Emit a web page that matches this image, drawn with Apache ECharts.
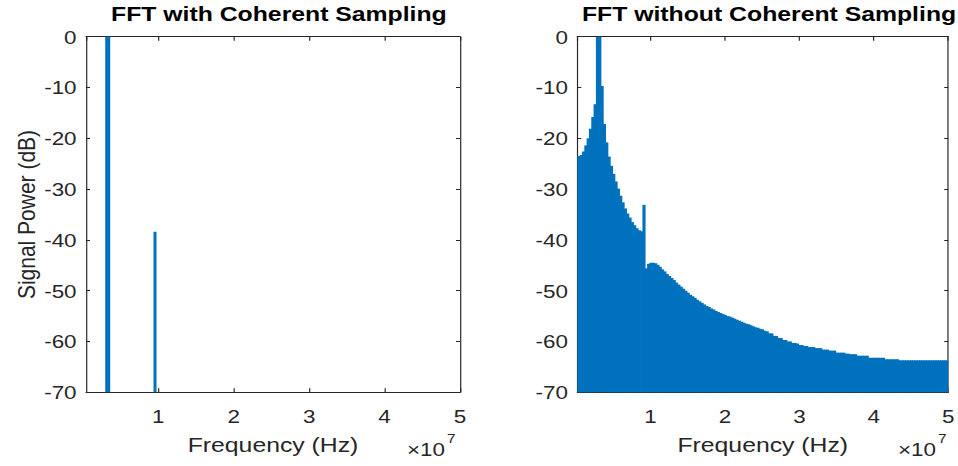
<!DOCTYPE html>
<html>
<head>
<meta charset="utf-8">
<script src="https://cdn.jsdelivr.net/npm/echarts@6/dist/echarts.min.js"></script>
<style>
  html, body { margin: 0; padding: 0; background: #fff; overflow: hidden; }
  #wrap { width: 958px; height: 466px; overflow: hidden; }
  #chart { width: 812px; height: 466px; transform-origin: 0 0; }
</style>
</head>
<body>
<div id="wrap"><div id="chart"></div></div>
<script>
// Horizontal stretch of the whole figure (figure drawn 812 wide, shown 958 wide)
const SX = 958 / 812;
document.getElementById('chart').style.transform = 'scaleX(' + SX + ')';

// ---- Data -------------------------------------------------------------
const titles = ['FFT with Coherent Sampling', 'FFT without Coherent Sampling'];
const xAxisName = 'Frequency (Hz)';
const yAxisName = 'Signal Power (dB)';
const yTicks = [0, -10, -20, -30, -40, -50, -60, -70];
const xTickLabels = ['1', '2', '3', '4', '5'];   // in units of 1e7 Hz

// Coherent sampling: only the fundamental and the 3rd harmonic are above the floor
const coherentFreqHz = [3.29e6, 9.56e6];
const coherentPowerDb = [0, -38.4];

// Non-coherent sampling: one bar per FFT bin, bin k at k * binHz
const noncoherentBinHz = 312500;
const noncoherentPowerDb = [
  -23.5, -23.3, -22.6, -21.4, -20.0, -18.1, -15.8, -13.3,   0.0,   0.0,
   -9.7, -17.2, -20.8, -23.6, -25.4, -27.0, -28.5, -29.9, -31.3, -32.6,
  -33.8, -34.8, -35.6, -36.5, -37.1, -37.7, -38.1, -38.3, -33.1, -45.6,
  -44.7, -44.5, -44.5, -44.6, -44.9, -45.3, -45.8, -46.2, -46.7, -47.1,
  -47.5, -47.9, -48.4, -48.8, -49.2, -49.6, -50.0, -50.4, -50.8, -51.1,
  -51.4, -51.8, -52.1, -52.4, -52.7, -53.0, -53.2, -53.5, -53.7, -54.0,
  -54.2, -54.4, -54.6, -54.8, -55.0, -55.1, -55.3, -55.5, -55.7, -55.9,
  -56.1, -56.3, -56.5, -56.6, -56.8, -57.0, -57.2, -57.3, -57.5, -57.6,
  -57.9, -58.0, -58.4, -58.4, -58.9, -58.9, -59.3, -59.3, -59.7, -59.7,
  -60.0, -60.0, -60.3, -60.3, -60.4, -60.7, -60.7, -60.9, -60.9, -61.1,
  -61.1, -61.1, -61.3, -61.3, -61.3, -61.6, -61.6, -61.6, -61.8, -61.8,
  -61.8, -62.2, -62.2, -62.2, -62.2, -62.4, -62.4, -62.5, -62.5, -62.5,
  -62.8, -62.8, -62.8, -62.8, -62.8, -63.2, -63.2, -63.2, -63.2, -63.2,
  -63.2, -63.2, -63.5, -63.5, -63.5, -63.5, -63.5, -63.5, -63.7, -63.7,
  -63.7, -63.7, -63.7, -63.7, -63.7, -63.7, -63.7, -63.7, -63.7, -63.7,
  -63.7, -63.7, -63.7, -63.7, -63.7, -63.7, -63.7, -63.7, -63.7, -63.7
];

// Axis ranges
const xMax = 5e7;
const xMinCoherent = 4.1e5;
const xMinNoncoherent = noncoherentBinHz / 2;
const yMin = -70, yMax = 0;

// ---- Style ------------------------------------------------------------
const FONT = "'Liberation Sans', Arial, Helvetica, sans-serif";
const AXIS_COLOR = '#262626';
const BAR_COLOR = '#0072BD';
const coherentBarPx = [5, 3];   // on-screen widths of the two spectral lines
const BIN_OVERLAP = 0.7;        // px each bin bar is widened so neighbours fuse into one fill

function toChartX(screenX) { return screenX / SX; }

const grids = [
  { left: toChartX(86),    top: 36.7, width: toChartX(460) - toChartX(86),    height: 355.6 },
  { left: toChartX(577.3), top: 36.7, width: toChartX(949) - toChartX(577.3), height: 355.6 }
];

function xLabelFormatter(v) {
  const u = v / 1e7;
  const r = Math.round(u);
  if (Math.abs(u - r) > 1e-9 || r < 1) return '';
  return xTickLabels[r - 1] || '';
}

function xAxisPair(gridIndex, min) {
  const common = {
    type: 'value', gridIndex, min, max: xMax,
    minInterval: 1e7, maxInterval: 1e7,
    splitLine: { show: false },
    axisLine: { show: true, onZero: false, lineStyle: { color: AXIS_COLOR, width: 1 } },
    axisTick: { show: true, inside: true, length: 4, lineStyle: { color: AXIS_COLOR, width: 1 } }
  };
  return [
    Object.assign({}, common, {
      position: 'bottom',
      axisLabel: { show: true, formatter: xLabelFormatter, fontSize: 19, color: AXIS_COLOR,
                   fontFamily: FONT, margin: 14, showMinLabel: false },
      name: xAxisName, nameLocation: 'middle', nameGap: 42,
      nameTextStyle: { fontSize: 21, color: AXIS_COLOR, fontFamily: FONT }
    }),
    Object.assign({}, common, { position: 'top', axisLabel: { show: false } })
  ];
}

function yAxisPair(gridIndex, withName) {
  const common = {
    type: 'value', gridIndex, min: yMin, max: yMax, interval: 10,
    splitLine: { show: false },
    axisLine: { show: true, onZero: false, lineStyle: { color: AXIS_COLOR, width: 1 } },
    axisTick: { show: true, inside: true, length: 3.4, lineStyle: { color: AXIS_COLOR, width: 1 } }
  };
  const left = Object.assign({}, common, {
    position: 'left',
    axisLabel: { show: true, fontSize: 19, color: AXIS_COLOR, fontFamily: FONT, margin: 8,
                 formatter: v => (yTicks.indexOf(v) >= 0 ? String(v) : '') }
  });
  if (withName) {
    Object.assign(left, {
      name: yAxisName, nameLocation: 'middle', nameGap: 40, nameRotate: 90,
      nameTextStyle: { fontSize: 21, color: AXIS_COLOR, fontFamily: FONT }
    });
  }
  return [left, Object.assign({}, common, { position: 'right', axisLabel: { show: false } })];
}

function clipToGrid(shape, params) {
  return echarts.graphic.clipRectByRect(shape, {
    x: params.coordSys.x, y: params.coordSys.y,
    width: params.coordSys.width, height: params.coordSys.height
  });
}

// Spectral lines of the coherent FFT
function renderCoherent(params, api) {
  const f = api.value(0), v = api.value(1);
  const top = api.coord([f, v]);
  const base = api.coord([f, yMin]);
  const w = coherentBarPx[params.dataIndex] / SX;
  const shape = clipToGrid({ x: top[0] - w / 2, y: top[1], width: w, height: base[1] - top[1] }, params);
  return shape && { type: 'rect', shape, style: { fill: BAR_COLOR } };
}

// One bar per bin of the non-coherent FFT
function renderBins(params, api) {
  const f = api.value(0), v = api.value(1);
  const p0 = api.coord([f - noncoherentBinHz / 2, v]);
  const p1 = api.coord([f + noncoherentBinHz / 2, yMin]);
  const shape = clipToGrid({
    x: p0[0], y: p0[1],
    width: p1[0] - p0[0] + BIN_OVERLAP, height: p1[1] - p0[1]
  }, params);
  return shape && { type: 'rect', shape, style: { fill: BAR_COLOR } };
}

const xAxes = xAxisPair(0, xMinCoherent).concat(xAxisPair(1, xMinNoncoherent));
const yAxes = yAxisPair(0, true).concat(yAxisPair(1, false));

const titleCenters = grids.map(g => g.left + g.width / 2);

// "x10^7" multiplier under the right end of each frequency axis
function exponentLabel(screenX) {
  return [
    { type: 'text', left: toChartX(screenX), top: 440,
      style: { text: '\u00d710', fontSize: 19, fill: AXIS_COLOR, fontFamily: FONT } },
    { type: 'text', left: toChartX(screenX + 40), top: 432,
      style: { text: '7', fontSize: 13, fill: AXIS_COLOR, fontFamily: FONT } }
  ];
}

const option = {
  animation: false,
  backgroundColor: '#ffffff',
  title: titles.map((t, i) => ({
    text: t, left: titleCenters[i], top: -2, textAlign: 'center',
    textStyle: { fontSize: 21, fontWeight: 'bold', color: '#000', fontFamily: FONT }
  })),
  grid: grids,
  xAxis: xAxes,
  yAxis: yAxes,
  series: [
    {
      type: 'custom', xAxisIndex: 0, yAxisIndex: 0,
      renderItem: renderCoherent,
      data: coherentFreqHz.map((f, i) => [f, coherentPowerDb[i]])
    },
    {
      type: 'custom', xAxisIndex: 2, yAxisIndex: 2,
      renderItem: renderBins,
      data: noncoherentPowerDb.map((v, i) => [(i + 1) * noncoherentBinHz, v])
    }
  ],
  graphic: exponentLabel(407).concat(exponentLabel(898))
};

const chart = echarts.init(document.getElementById('chart'), null, { renderer: 'svg' });
chart.setOption(option);
</script>
</body>
</html>
